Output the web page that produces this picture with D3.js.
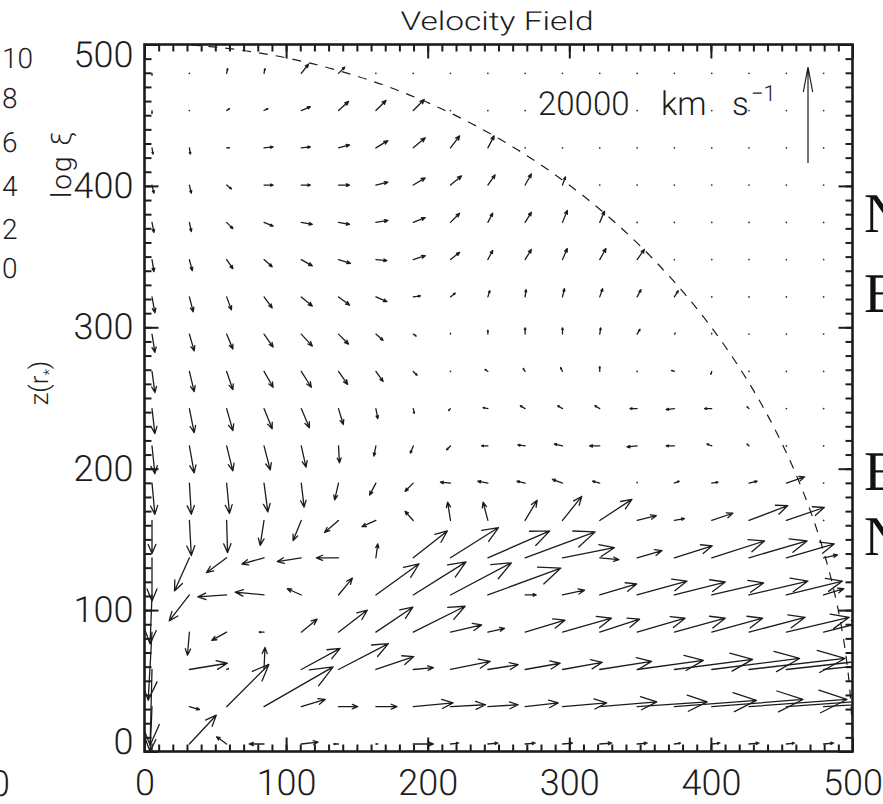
<!DOCTYPE html>
<html><head><meta charset="utf-8">
<script src="https://cdn.jsdelivr.net/npm/d3@7"></script>
<style>body{margin:0;background:#fff;} svg{display:block;} text{text-rendering:geometricPrecision;}</style>
</head><body>
<svg id="c" width="883" height="804"></svg>
<script>
// grid of the velocity field (units of r*)
const rGrid = [5.3,31.7,58.0,84.4,110.7,137.0,163.4,189.8,216.1,242.5,268.8,295.2,321.5,347.9,374.2,400.6,426.9,453.3,479.6];
const zGrid = [5.3,31.7,58.0,84.4,110.7,137.0,163.4,189.8,216.1,242.5,268.8,295.2,321.5,347.9,374.2,400.6,426.9,453.3,479.6];
// velocity components in 10^3 km/s, rows = zGrid (bottom to top), columns = rGrid
const vr = [
 [0,5.6,-2.1,-3.1,3.5,-1.0,0.4,4.2,1.7,2.1,2.1,2.1,2.5,2.1,1.3,1.7,2.1,1.7,2.1],
 [-0.4,2.1,8.8,14.4,5.0,4.0,4.4,8.3,7.3,6.3,6.9,9.2,11.9,14.6,17.1,19.0,20.4,20.8,20.8],
 [-0.4,7.9,0.4,0.2,8.1,10.4,7.9,4.2,8.3,6.3,7.3,8.3,10.8,13.8,16.3,18.3,20.0,20.4,20.4],
 [-0.8,-0.4,-3.1,-1.0,3.3,6.0,7.7,10.8,6.5,3.5,8.3,10.2,8.3,10.0,10.6,10.6,11.7,13.1,8.3],
 [-0.4,-4.2,-6.0,-6.0,-2.9,2.9,9.0,11.0,12.7,15.2,2.3,4.6,7.7,10.4,10.6,10.8,12.3,11.7,4.2],
 [0,-3.1,-4.2,-4.6,-5.0,-4.6,0.4,7.1,10.0,12.9,14.6,10.8,4.0,5.2,7.9,11.0,12.1,10.0,2.9],
 [0,0.4,0.2,-0.8,-1.7,-2.9,-2.9,-1.7,-0.6,-1.0,2.5,4.0,6.7,4.0,2.1,4.4,8.1,7.9,0],
 [0.6,0.4,0.6,0.8,0.6,-0.8,-1.3,-1.7,-2.1,-2.1,-1.7,-2.1,-1.5,0,1.0,1.3,1.7,3.8,0],
 [0.6,1.0,1.3,1.3,1.0,0.2,-0.4,-0.6,-0.8,-1.3,-1.5,-1.7,-2.1,-2.1,-1.7,-1.0,-0.4,0,0],
 [0.6,1.0,1.3,1.7,1.7,1.0,0.4,0.2,-0.4,-1.0,-1.0,-1.0,-1.0,-1.5,-1.7,-1.5,-0.4,0,0],
 [0.6,1.0,1.3,1.9,2.1,1.9,1.5,0.8,0,-0.6,-0.4,-0.4,0,0,-0.6,-0.2,0,0,0],
 [0.6,1.0,1.3,1.9,2.3,2.1,1.5,0.6,0,0,0,0,0.2,0.6,0.2,0,0,0,0],
 [0.6,0.8,1.0,1.7,2.3,2.3,2.3,1.5,1.0,0.4,0.2,0.4,0.6,0.8,0.8,0,0,0,0],
 [0.4,0.6,1.3,1.7,2.3,2.5,2.3,2.5,1.9,1.0,1.3,1.0,1.3,1.5,0,0,0,0,0],
 [0.4,0.4,1.3,1.9,2.3,2.3,2.5,2.5,1.9,1.0,1.3,1.0,1.0,0,0,0,0,0,0],
 [0.4,0.4,1.0,1.9,1.9,2.3,2.5,2.5,2.3,1.5,1.3,0.6,0,0,0,0,0,0,0],
 [0.2,0.2,0.6,1.9,1.9,2.3,2.5,2.5,1.9,1.3,0,0,0,0,0,0,0,0,0],
 [0,0,0.6,0.8,1.9,2.1,2.1,2.3,0,0,0,0,0,0,0,0,0,0,0],
 [0,0,0.2,0.2,1.5,1.3,0,0,0,0,0,0,0,0,0,0,0,0,0]
];
const vz = [
 [-2.1,6.0,1.5,0,0.4,0,0,0,0.2,0.2,0.2,0.2,0.2,0.2,0.2,0.2,0.2,0.2,0.2],
 [-9.4,-0.6,8.8,8.3,1.5,0,0,0.8,0.4,0.4,0.8,0.8,1.0,1.0,1.3,1.5,1.5,1.5,1.3],
 [-15.8,1.3,0.2,4.6,4.4,5.4,2.7,0.4,1.7,1.0,1.3,1.5,1.7,1.9,2.1,2.3,2.3,2.3,2.1],
 [-14.2,-4.8,-1.7,0,2.7,4.6,5.2,5.4,1.5,0.8,2.5,2.9,2.7,2.9,2.9,2.9,3.1,3.1,2.1],
 [-10.2,-5.4,-0.4,0.6,1.3,3.5,6.5,6.9,6.7,5.6,0,1.0,2.3,2.9,2.7,2.5,2.9,2.9,1.3],
 [-9.0,-6.9,-3.1,-1.3,-0.8,0,2.9,5.6,6.3,5.6,5.4,2.1,-0.4,1.5,2.5,3.5,3.5,2.9,0.6],
 [-6.9,-7.3,-6.7,-5.2,-4.2,-2.5,-1.3,1.9,3.8,3.8,4.2,5.0,4.4,1.0,0.4,1.5,3.1,2.7,0],
 [-6.5,-6.5,-6.3,-6.0,-5.0,-3.5,-2.5,-1.7,0.2,0.4,0.4,0.8,0.4,0.2,0.4,0.2,0.4,1.3,0],
 [-5.8,-5.6,-5.2,-5.0,-4.4,-3.5,-2.1,-1.5,-0.8,0,0.2,0.4,0,-0.2,0,0.4,0.4,0,0],
 [-5.2,-5.0,-4.6,-4.2,-4.0,-3.3,-2.1,-1.0,-0.4,0.2,0.6,0.6,0.6,0,-0.2,0,0.4,0,0],
 [-4.4,-4.2,-3.8,-3.3,-3.3,-2.7,-2.1,-0.8,0,0.4,0.6,0.8,1.0,0,0.2,-0.6,0,0,0],
 [-3.8,-3.5,-3.1,-2.7,-2.5,-2.1,-1.3,-0.4,0.2,0.8,1.3,1.3,1.3,1.0,0.2,0.2,0,0,0],
 [-3.3,-3.1,-2.7,-2.3,-1.9,-1.7,-1.0,0.2,0.8,1.3,1.5,1.7,1.7,1.5,1.3,0,0,0,0],
 [-2.5,-2.3,-1.9,-1.5,-1.3,-0.8,-0.2,0.8,1.5,1.9,2.1,2.3,2.3,2.1,0,0,0,0,0],
 [-2.1,-1.9,-1.3,-0.8,-0.4,-0.4,0.4,1.0,1.9,1.9,2.1,2.5,2.3,0,0,0,0,0,0],
 [-1.7,-1.7,-0.8,0,0,0,0.6,1.5,1.9,2.1,2.3,1.7,0,0,0,0,0,0,0],
 [-1.3,-1.3,0,0.2,0.2,0.6,1.5,2.1,2.5,2.5,0,0,0,0,0,0,0,0,0],
 [-0.6,0,0.4,0.4,0.8,1.9,2.1,2.3,0,0,0,0,0,0,0,0,0,0,0],
 [-0.4,0,1.0,1.0,1.9,1.3,0,0,0,0,0,0,0,0,0,0,0,0,0]
];
const xTicks = [0,100,200,300,400,500];
const yTicks = [0,100,200,300,400,500];
const cbLabels = ["10","8","6","4","2","0"];
const refSpeed = 20;          // 10^3 km/s  (20000 km/s)
const boundaryRadius = 500;   // r*

const svg = d3.select("#c");
const L = 144.5, R = 852.5, T = 44.5, B = 751.5;
const x = d3.scaleLinear().domain([0,500]).range([L,R]);
const y = d3.scaleLinear().domain([0,500]).range([B,T]);
const len = d3.scaleLinear().domain([0,20]).range([0,96]);
const ink = "#1c1c1c";
const numFont = "Roboto, 'DejaVu Sans', sans-serif";

svg.append("defs").append("clipPath").attr("id","pc")
  .append("rect").attr("x",L).attr("y",T).attr("width",R-L).attr("height",B-T);

const plot = svg.append("g").attr("clip-path","url(#pc)");

// boundary circle
plot.append("circle")
  .attr("cx",x(0)).attr("cy",y(0)).attr("r",x(boundaryRadius)-x(0))
  .attr("fill","none").attr("stroke",ink).attr("stroke-width",1.2)
  .attr("stroke-dasharray","9,8");

// vectors
const ang = 22.5*Math.PI/180, hr = 0.3;
const ct = hr*Math.cos(ang), st = hr*Math.sin(ang);
const pts = [];
zGrid.forEach((z,j)=> rGrid.forEach((r,i)=> pts.push({r, z, u:vr[j][i], w:vz[j][i]})));
function arrowPath(x0,y0,dx,dy){
  const x1=x0+dx, y1=y0+dy;
  const h1x = x1-(dx*ct+dy*st), h1y = y1-(dy*ct-dx*st);
  const h2x = x1-(dx*ct-dy*st), h2y = y1-(dy*ct+dx*st);
  return `M${x0},${y0}L${x1},${y1}M${h1x},${h1y}L${x1},${y1}L${h2x},${h2y}`;
}
plot.selectAll("path.v").data(pts.filter(d=>d.u!==0||d.w!==0)).join("path")
  .attr("class","v")
  .attr("d",d=>arrowPath(x(d.r),y(d.z),len(d.u),-len(d.w)))
  .attr("fill","none").attr("stroke",ink).attr("stroke-width",1.3)
  .attr("stroke-linecap","round").attr("stroke-linejoin","round");
plot.selectAll("circle.dot").data(pts.filter(d=>d.u===0&&d.w===0)).join("circle")
  .attr("class","dot").attr("cx",d=>x(d.r)).attr("cy",d=>y(d.z)).attr("r",0.9)
  .attr("fill","#333");

// axes
function styleAxis(g){
  g.select(".domain").remove();
  g.selectAll(".tick line").attr("stroke",ink).attr("stroke-width",2);
  g.selectAll("text").attr("font-family",numFont).attr("font-weight",300)
    .attr("font-size",36).attr("fill",ink);
}
const minorX = x.ticks(50), minorY = y.ticks(50);
svg.append("g").attr("transform",`translate(0,${B})`)
  .call(d3.axisBottom(x).tickValues(minorX).tickSize(-7).tickFormat("")).call(styleAxis);
svg.append("g").attr("transform",`translate(0,${B})`)
  .call(d3.axisBottom(x).tickValues(xTicks).tickSize(-14).tickPadding(18).tickFormat(d3.format("d"))).call(styleAxis);
svg.append("g").attr("transform",`translate(0,${T})`)
  .call(d3.axisTop(x).tickValues(minorX).tickSize(-7).tickFormat("")).call(styleAxis);
svg.append("g").attr("transform",`translate(0,${T})`)
  .call(d3.axisTop(x).tickValues(xTicks).tickSize(-14).tickFormat("")).call(styleAxis);
svg.append("g").attr("transform",`translate(${L},0)`)
  .call(d3.axisLeft(y).tickValues(minorY).tickSize(-7).tickFormat("")).call(styleAxis);
const yAx = svg.append("g").attr("transform",`translate(${L},0)`)
  .call(d3.axisLeft(y).tickValues(yTicks).tickSize(-14).tickPadding(11).tickFormat(d3.format("d"))).call(styleAxis);
// end labels sit slightly inside the frame, as in the original
yAx.selectAll(".tick text").attr("dy",d=> d===500 ? "0.62em" : d===0 ? "0.05em" : "0.32em");
svg.append("g").attr("transform",`translate(${R},0)`)
  .call(d3.axisRight(y).tickValues(minorY).tickSize(-7).tickFormat("")).call(styleAxis);
svg.append("g").attr("transform",`translate(${R},0)`)
  .call(d3.axisRight(y).tickValues(yTicks).tickSize(-14).tickFormat("")).call(styleAxis);

svg.append("rect").attr("x",L).attr("y",T).attr("width",R-L).attr("height",B-T)
  .attr("fill","none").attr("stroke",ink).attr("stroke-width",2.6);

// title
svg.append("text").attr("x",497).attr("y",30).attr("text-anchor","middle")
  .attr("font-family",numFont).attr("font-weight",300).attr("font-size",26)
  .attr("textLength",193).attr("lengthAdjust","spacingAndGlyphs")
  .attr("fill",ink).text("Velocity Field");

// y label
const yl = svg.append("text").attr("transform","translate(48,383) rotate(-90)")
  .attr("text-anchor","middle").attr("font-family",numFont).attr("font-weight",300)
  .attr("font-size",26).attr("fill",ink);
yl.append("tspan").text("z(r");
yl.append("tspan").attr("font-size",15).attr("dy",6).text("*");
yl.append("tspan").attr("dy",-6).text(")");

// reference arrow + label
const refX = 808, refTail = 163;
const refLen = len(refSpeed);
svg.append("path")
  .attr("d",`M${refX},${refTail}L${refX},${refTail-refLen}M${refX-4.7},${refTail-refLen+25}L${refX},${refTail-refLen}L${refX+4.7},${refTail-refLen+25}`)
  .attr("fill","none").attr("stroke",ink).attr("stroke-width",1.2);
const lt = svg.append("text").attr("y",115).attr("font-family",numFont).attr("font-weight",300)
  .attr("font-size",33).attr("fill",ink);
lt.append("tspan").attr("x",538).text(d3.format("d")(refSpeed*1000));
lt.append("tspan").attr("x",661).text("km");
lt.append("tspan").attr("x",732).text("s");
lt.append("tspan").attr("x",751).attr("dy",-14).attr("font-size",22).text("−1");

// neighbouring panel fragments: colour-bar labels and axis title
svg.selectAll("text.cb").data(cbLabels).join("text").attr("class","cb")
  .attr("x",2).attr("y",(d,i)=>[58,98,142,186,229,268][i]).attr("dy","0.35em")
  .attr("font-family",numFont).attr("font-weight",300).attr("font-size",28).attr("fill",ink)
  .text(d=>d);
svg.append("text").attr("transform","translate(71,164) rotate(-90)").attr("text-anchor","middle")
  .attr("font-family",numFont).attr("font-weight",300).attr("font-size",28)
  .attr("letter-spacing",2).attr("fill",ink).text("log ξ");
svg.append("text").attr("x",10).attr("y",796).attr("text-anchor","end")
  .attr("font-family",numFont).attr("font-weight",300).attr("font-size",36).attr("fill",ink).text("0");
// right panel fragments (large serif letters cut by the edge)
const serif = "'Liberation Serif','DejaVu Serif',serif";
[["N",232],["E",312],["E",490],["N",555]].forEach(([t,yb])=>{
  svg.append("text").attr("x",864).attr("y",yb).attr("font-family",serif)
    .attr("font-size",56).attr("fill","#111").text(t);
});
</script>
</body></html>
